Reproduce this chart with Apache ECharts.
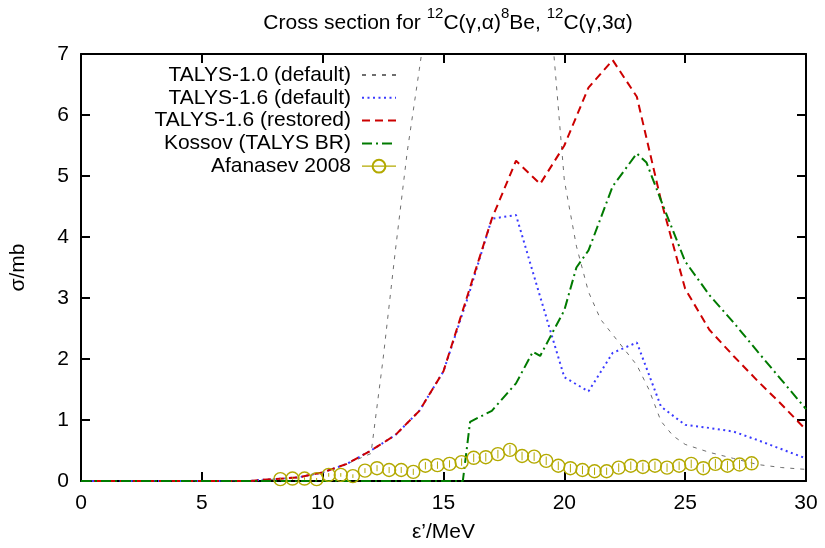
<!DOCTYPE html>
<html>
<head>
<meta charset="utf-8">
<script src="https://cdn.jsdelivr.net/npm/echarts@6/dist/echarts.min.js"></script>
<style>
  html, body { margin: 0; padding: 0; background: #fff; }
  #chart { width: 825px; height: 548px; }
</style>
</head>
<body>
<div id="chart"></div>
<script>
// Photonuclear cross sections for 12C -> alpha channels (sigma in mb vs energy in MeV)

// TALYS-1.0 (default)
const talys10E     = [0, 7, 8, 9, 10, 11, 12, 12.5, 13, 13.5, 14, 15, 16, 17, 18, 19, 20, 20.5, 21, 21.5, 22, 22.5, 23, 23.5, 24, 24.5, 25, 26, 27, 28, 29, 30];
const talys10Sigma = [0, 0, 0.03, 0.06, 0.14, 0.28, 0.45, 2.0, 3.75, 5.4, 6.75, 9.5, 11.5, 12.5, 12.0, 9.7, 4.93, 3.85, 3.1, 2.65, 2.4, 2.15, 1.9, 1.5, 0.98, 0.74, 0.6, 0.47, 0.37, 0.27, 0.22, 0.19];

// TALYS-1.6 (default)
const talys16E     = [0, 7, 7.5, 8, 9, 10, 11, 12, 13, 14, 15, 16, 17, 18, 19, 20, 21, 22, 23, 24, 25, 26, 27, 28, 29, 30];
const talys16Sigma = [0, 0, 0.02, 0.03, 0.06, 0.14, 0.28, 0.5, 0.75, 1.15, 1.8, 3.0, 4.3, 4.36, 3.02, 1.7, 1.47, 2.1, 2.27, 1.22, 0.92, 0.87, 0.81, 0.67, 0.52, 0.37];

// TALYS-1.6 (restored)
const talys16rE     = [0, 7, 7.5, 8, 9, 10, 11, 12, 13, 14, 15, 16, 17, 18, 19, 20, 21, 22, 23, 24, 25, 26, 27, 28, 29, 30];
const talys16rSigma = [0, 0, 0.02, 0.03, 0.06, 0.14, 0.28, 0.5, 0.75, 1.15, 1.8, 3.05, 4.3, 5.25, 4.87, 5.5, 6.45, 6.9, 6.3, 4.6, 3.15, 2.48, 2.05, 1.64, 1.25, 0.84];

// Kossov (TALYS BR)
const kossovE     = [0, 15.8, 16.1, 17, 18, 18.7, 19, 20, 20.5, 21, 22, 23, 23.4, 24, 25, 26, 27, 28, 29, 30];
const kossovSigma = [0, 0, 0.97, 1.15, 1.6, 2.12, 2.05, 2.8, 3.5, 3.78, 4.83, 5.37, 5.22, 4.6, 3.6, 3.05, 2.6, 2.12, 1.65, 1.18];

// Afanasev 2008 measurement with uncertainties
const afanasevE     = [8.25, 8.75, 9.25, 9.75, 10.25, 10.75, 11.25, 11.75, 12.25, 12.75, 13.25, 13.75, 14.25, 14.75, 15.25, 15.75, 16.25, 16.75, 17.25, 17.75, 18.25, 18.75, 19.25, 19.75, 20.25, 20.75, 21.25, 21.75, 22.25, 22.75, 23.25, 23.75, 24.25, 24.75, 25.25, 25.75, 26.25, 26.75, 27.25, 27.75];
const afanasevSigma = [0.03, 0.04, 0.04, 0.03, 0.10, 0.10, 0.08, 0.17, 0.21, 0.18, 0.18, 0.15, 0.25, 0.26, 0.28, 0.31, 0.38, 0.39, 0.44, 0.51, 0.41, 0.40, 0.33, 0.25, 0.21, 0.18, 0.16, 0.16, 0.22, 0.25, 0.23, 0.25, 0.22, 0.25, 0.28, 0.21, 0.28, 0.25, 0.27, 0.29];
const afanasevErr   = [0.02, 0.02, 0.02, 0.02, 0.03, 0.03, 0.03, 0.04, 0.05, 0.05, 0.05, 0.05, 0.06, 0.06, 0.06, 0.06, 0.07, 0.07, 0.07, 0.08, 0.07, 0.07, 0.07, 0.07, 0.07, 0.07, 0.06, 0.06, 0.07, 0.07, 0.07, 0.07, 0.07, 0.07, 0.07, 0.07, 0.08, 0.08, 0.08, 0.08];

// Axis ticks
const xTicks = [0, 5, 10, 15, 20, 25, 30];
const yTicks = [0, 1, 2, 3, 4, 5, 6, 7];

const FONT = '"Liberation Sans", Arial, Helvetica, sans-serif';
const FS = 21;
const OLIVE = '#b3a900';

function pairs(xs, ys) { return xs.map((x, i) => [x, ys[i]]); }

const chart = echarts.init(document.getElementById('chart'), null, { renderer: 'canvas' });

const frameAxis = {
  axisLine: { show: true, onZero: false, lineStyle: { color: '#000', width: 2 } },
  axisTick: { show: true, inside: true, length: 9, lineStyle: { color: '#000', width: 2 } },
  splitLine: { show: false }
};

// line-only legend icons (no marker in the middle)
const noMarker = { opacity: 0 };

const option = {
  backgroundColor: '#fff',
  animation: false,
  title: {
    left: 443, top: 1, textAlign: 'center',
    text: '{t|Cross section for }{s|12}{t|C(γ,α)}{s|8}{t|Be, }{s|12}{t|C(γ,3α)}',
    textStyle: {
      fontWeight: 'normal',
      rich: {
        t: { fontFamily: FONT, fontSize: FS, fontWeight: 'normal', color: '#000', lineHeight: 28, verticalAlign: 'bottom' },
        s: { fontFamily: FONT, fontSize: 15, fontWeight: 'normal', color: '#000', lineHeight: 28, verticalAlign: 'top' }
      }
    }
  },
  grid: { left: 81, right: 19, top: 54, bottom: 66, containLabel: false },
  legend: {
    orient: 'vertical',
    right: 428, top: 64.5, padding: 0,
    align: 'right',
    itemWidth: 34, itemHeight: 16, itemGap: 1.8,
    selectedMode: false,
    textStyle: { fontFamily: FONT, fontSize: FS, lineHeight: 21, color: '#000', padding: [0, 6, 0, 0] },
    data: [
      { name: 'TALYS-1.0 (default)', itemStyle: noMarker },
      { name: 'TALYS-1.6 (default)', itemStyle: noMarker },
      { name: 'TALYS-1.6 (restored)', itemStyle: noMarker },
      { name: 'Kossov (TALYS BR)', itemStyle: noMarker },
      { name: 'Afanasev 2008', lineStyle: { color: OLIVE, width: 1.3, opacity: 1, type: 'solid' } }
    ]
  },
  xAxis: [
    Object.assign({
      type: 'value', position: 'bottom', min: xTicks[0], max: xTicks[xTicks.length - 1], interval: 5,
      name: 'ε’/MeV', nameLocation: 'middle', nameGap: 41,
      nameTextStyle: { fontFamily: FONT, fontSize: FS, color: '#000' },
      axisLabel: { show: true, margin: 12, fontFamily: FONT, fontSize: FS, color: '#000' }
    }, frameAxis),
    Object.assign({
      type: 'value', position: 'top', min: xTicks[0], max: xTicks[xTicks.length - 1], interval: 5,
      axisLabel: { show: false }
    }, frameAxis)
  ],
  yAxis: [
    Object.assign({
      type: 'value', position: 'left', min: yTicks[0], max: yTicks[yTicks.length - 1], interval: 1,
      name: 'σ/mb', nameLocation: 'middle', nameGap: 52, nameRotate: 90,
      nameTextStyle: { fontFamily: FONT, fontSize: FS, color: '#000' },
      axisLabel: { show: true, margin: 12, fontFamily: FONT, fontSize: FS, color: '#000' }
    }, frameAxis),
    Object.assign({
      type: 'value', position: 'right', min: yTicks[0], max: yTicks[yTicks.length - 1], interval: 1,
      axisLabel: { show: false }
    }, frameAxis)
  ],
  series: [
    {
      name: 'TALYS-1.0 (default)', type: 'line', data: pairs(talys10E, talys10Sigma),
      symbol: 'none', clip: true,
      lineStyle: { color: '#6e6e6e', width: 1, type: [4, 6] },
      itemStyle: { color: '#6e6e6e' }
    },
    {
      name: 'TALYS-1.6 (default)', type: 'line', data: pairs(talys16E, talys16Sigma),
      symbol: 'none', clip: true,
      lineStyle: { color: '#3a3aff', width: 2, type: [2, 3.5] },
      itemStyle: { color: '#3a3aff' }
    },
    {
      name: 'TALYS-1.6 (restored)', type: 'line', data: pairs(talys16rE, talys16rSigma),
      symbol: 'none', clip: true,
      lineStyle: { color: '#cc0000', width: 2, type: [8, 5] },
      itemStyle: { color: '#cc0000' }
    },
    {
      name: 'Kossov (TALYS BR)', type: 'line', data: pairs(kossovE, kossovSigma),
      symbol: 'none', clip: true,
      lineStyle: { color: '#007a00', width: 2, type: [10, 4, 2, 4] },
      itemStyle: { color: '#007a00' }
    },
    {
      name: 'Afanasev 2008', type: 'line', data: pairs(afanasevE, afanasevSigma),
      symbol: 'circle', symbolSize: 13, showSymbol: true, clip: true,
      lineStyle: { width: 0, opacity: 0, color: OLIVE },
      itemStyle: { color: 'rgba(255,255,255,0)', borderColor: OLIVE, borderWidth: 1.4 },
      z: 5
    },
    {
      name: 'Afanasev 2008 errors', type: 'custom',
      data: afanasevE.map((x, i) => [x, afanasevSigma[i], afanasevErr[i]]),
      renderItem: function (params, api) {
        const x = api.value(0), y = api.value(1), e = api.value(2);
        const lo = api.coord([x, Math.max(0, y - e)]);
        const hi = api.coord([x, y + e]);
        return {
          type: 'line',
          shape: { x1: lo[0], y1: lo[1], x2: hi[0], y2: hi[1] },
          style: { stroke: OLIVE, lineWidth: 1 }
        };
      },
      z: 5
    }
  ]
};

chart.setOption(option);
</script>
</body>
</html>
